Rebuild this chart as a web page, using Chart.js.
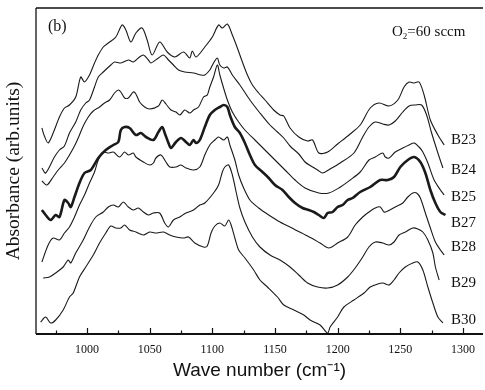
<!DOCTYPE html>
<html>
<head>
<meta charset="utf-8">
<script src="https://cdn.jsdelivr.net/npm/chart.js@4.4.1/dist/chart.umd.min.js"></script>
<style>
  html, body { margin: 0; padding: 0; background: #fff; }
  #wrap { width: 485px; height: 390px; }
</style>
</head>
<body>
<div id="wrap"><canvas id="chart-ftir" width="485" height="390"></canvas></div>
<script>
// ─── Data (wave number cm-1, absorbance arb. units) ───────────────────────────

const xTicks = [1000, 1050, 1100, 1150, 1200, 1250, 1300];
const curveNames = ['B23', 'B24', 'B25', 'B27', 'B28', 'B29', 'B30'];

const b23 = [[964,206],[966,198],[969,191],[973,201],[978,217],[982,226],[986,229],[991,237],[995,257],[998,252],[1002,259],[1006,271],[1009,279],[1013,287],[1017,291],[1023,297],[1028,309],[1031,304],[1035,292],[1039,301],[1044,306],[1048,294],[1052,279],[1058,292],[1064,282],[1070,277],[1077,282],[1082,276],[1084,283],[1087,277],[1094,287],[1100,297],[1105,309],[1108,306],[1112,310],[1116,299],[1120,286],[1124,272],[1128,259],[1132,249],[1137,241],[1142,234],[1149,224],[1154,219],[1157,218],[1162,206],[1169,197],[1176,193],[1180,194],[1185,181],[1192,182],[1200,190],[1210,200],[1218,209],[1226,226],[1233,231],[1241,228],[1248,234],[1253,247],[1257,252],[1261,251],[1265,252],[1269,239],[1274,214],[1280,199],[1285,189]];

const b24 = [[964,166],[967,161],[974,177],[978,184],[982,188],[986,201],[991,212],[995,224],[999,231],[1002,234],[1006,247],[1009,257],[1013,262],[1019,269],[1022,272],[1027,271],[1033,274],[1037,272],[1041,276],[1045,279],[1049,274],[1051,271],[1057,276],[1061,279],[1065,274],[1069,269],[1073,264],[1078,262],[1085,261],[1091,259],[1094,259],[1098,264],[1101,271],[1104,276],[1106,269],[1109,266],[1112,267],[1116,259],[1122,249],[1130,234],[1138,221],[1146,209],[1152,202],[1157,196],[1162,188],[1169,180],[1174,172],[1180,167],[1184,164],[1188,161],[1194,165],[1202,171],[1213,181],[1220,197],[1225,207],[1230,212],[1236,210],[1241,209],[1246,213],[1252,222],[1257,228],[1262,229],[1267,229],[1271,219],[1275,201],[1280,181],[1284,166]];

const b25 = [[964,153],[968,149],[973,157],[977,164],[982,171],[986,179],[990,188],[993,196],[997,208],[1001,217],[1005,223],[1010,227],[1014,231],[1018,234],[1022,241],[1025,244],[1027,242],[1030,236],[1033,236],[1037,242],[1039,240],[1042,232],[1046,227],[1050,225],[1057,228],[1060,234],[1063,230],[1067,224],[1071,222],[1074,219],[1078,224],[1082,221],[1085,224],[1089,227],[1093,237],[1096,239],[1098,247],[1101,257],[1104,269],[1106,259],[1109,246],[1112,234],[1116,222],[1121,212],[1126,204],[1134,194],[1142,184],[1150,174],[1158,164],[1166,154],[1174,146],[1185,141],[1193,141],[1201,146],[1210,154],[1218,162],[1225,174],[1230,177],[1236,181],[1238,177],[1241,176],[1246,182],[1252,186],[1257,189],[1261,191],[1265,187],[1268,182],[1272,171],[1277,154],[1282,144],[1285,139]];

const b27 = [[964,124],[967,119],[971,114],[975,119],[978,117],[982,134],[985,131],[987,127],[990,137],[994,151],[998,161],[1003,164],[1009,176],[1015,184],[1021,189],[1025,192],[1027,204],[1030,207],[1034,206],[1039,199],[1043,201],[1047,197],[1053,194],[1057,202],[1060,207],[1062,201],[1065,191],[1067,186],[1071,192],[1075,196],[1079,192],[1082,189],[1085,194],[1087,191],[1090,194],[1094,207],[1098,219],[1102,224],[1106,227],[1109,229],[1112,227],[1114,219],[1118,207],[1122,201],[1126,191],[1130,179],[1134,169],[1140,162],[1145,156],[1150,149],[1156,144],[1161,137],[1166,131],[1172,126],[1177,124],[1181,122],[1185,119],[1189,116],[1192,121],[1196,122],[1200,127],[1204,129],[1208,134],[1212,136],[1218,142],[1226,147],[1234,154],[1240,154],[1245,157],[1250,167],[1256,174],[1261,177],[1266,172],[1270,161],[1274,144],[1278,131],[1282,122],[1286,119]];

const b28 = [[964,72],[969,89],[973,96],[978,94],[982,101],[986,107],[990,117],[994,129],[998,139],[1002,151],[1006,162],[1009,174],[1013,182],[1017,181],[1021,182],[1026,177],[1030,182],[1033,179],[1037,181],[1039,177],[1045,172],[1050,169],[1053,171],[1055,176],[1059,179],[1063,172],[1066,167],[1071,167],[1075,169],[1079,166],[1085,164],[1090,167],[1094,179],[1098,189],[1102,194],[1105,197],[1109,194],[1112,197],[1114,189],[1118,174],[1121,159],[1125,146],[1130,134],[1137,126],[1145,119],[1154,112],[1165,105],[1176,98],[1186,91],[1193,86],[1200,91],[1208,97],[1214,109],[1220,117],[1225,122],[1230,126],[1234,127],[1237,122],[1240,123],[1246,127],[1252,131],[1256,137],[1260,141],[1263,141],[1266,136],[1270,121],[1274,106],[1278,92],[1282,84],[1285,79]];

const b29 = [[965,56],[970,57],[975,61],[981,67],[985,74],[987,71],[991,81],[997,94],[1002,107],[1007,117],[1013,122],[1017,127],[1021,129],[1025,127],[1029,132],[1033,127],[1037,124],[1041,126],[1045,122],[1049,119],[1053,121],[1058,121],[1062,111],[1065,107],[1069,114],[1074,117],[1079,121],[1085,124],[1090,129],[1094,131],[1101,141],[1105,149],[1108,162],[1110,167],[1113,169],[1116,159],[1119,142],[1122,126],[1126,112],[1132,97],[1138,87],[1146,79],[1154,74],[1162,67],[1169,59],[1176,51],[1184,47],[1192,46],[1200,49],[1208,57],[1214,66],[1220,77],[1225,87],[1230,92],[1236,91],[1241,89],[1245,92],[1249,99],[1254,102],[1260,106],[1264,105],[1268,102],[1272,94],[1276,81],[1278,67],[1281,54]];

const b30 = [[963,12],[967,17],[971,11],[975,14],[981,24],[986,37],[989,41],[994,57],[999,67],[1005,79],[1010,91],[1015,101],[1019,108],[1023,106],[1027,106],[1030,109],[1034,104],[1039,102],[1045,99],[1050,102],[1055,101],[1061,102],[1066,99],[1071,97],[1077,96],[1081,97],[1086,91],[1093,87],[1096,88],[1099,101],[1102,108],[1106,111],[1110,108],[1113,114],[1115,109],[1118,96],[1121,84],[1126,76],[1133,64],[1138,54],[1144,47],[1152,37],[1157,29],[1165,24],[1173,19],[1178,14],[1186,9],[1192,1],[1194,7],[1200,17],[1205,27],[1213,34],[1221,41],[1226,47],[1232,50],[1236,51],[1241,49],[1245,54],[1249,61],[1254,67],[1260,71],[1264,72],[1268,64],[1272,47],[1276,31],[1280,17],[1284,11]];

const curves = [b23, b24, b25, b27, b28, b29, b30];

// ─── Frame, inward ticks and in-plot text ─────────────────────────────────────

const labelPos = [140, 170, 197, 223, 247, 283, 320];

const framePlugin = {
  id: 'frame',
  afterDraw(chart) {
    const { ctx, chartArea: a, scales: { x } } = chart;
    ctx.save();
    ctx.strokeStyle = '#111';
    ctx.lineCap = 'butt';

    ctx.lineWidth = 1.6;
    ctx.beginPath(); ctx.moveTo(a.left, a.top); ctx.lineTo(a.right, a.top); ctx.stroke();
    ctx.lineWidth = 1.3;
    ctx.beginPath(); ctx.moveTo(a.left, a.top); ctx.lineTo(a.left, a.bottom); ctx.stroke();
    ctx.lineWidth = 2;
    ctx.beginPath(); ctx.moveTo(a.left, a.bottom); ctx.lineTo(a.right, a.bottom); ctx.stroke();

    ctx.lineWidth = 1.2;
    for (let v = 975; v <= 1300; v += 25) {
      const px = Math.round(x.getPixelForValue(v)) + 0.5;
      const len = v % 50 === 0 ? 6 : 3.5;
      ctx.beginPath(); ctx.moveTo(px, a.bottom); ctx.lineTo(px, a.bottom - len); ctx.stroke();
    }

    ctx.fillStyle = '#111';
    ctx.textBaseline = 'middle';
    ctx.textAlign = 'left';
    ctx.font = '15px "Liberation Serif"';
    curveNames.forEach((name, i) => ctx.fillText(name, 451, labelPos[i]));

    ctx.font = '16px "Liberation Serif"';
    ctx.fillText('(b)', 48, 27);

    // O2=60 sccm with subscript
    ctx.font = '15px "Liberation Serif"';
    let tx = 392;
    ctx.fillText('O', tx, 32);
    tx += ctx.measureText('O').width;
    ctx.font = '9px "Liberation Serif"';
    ctx.fillText('2', tx, 37);
    tx += ctx.measureText('2').width;
    ctx.font = '15px "Liberation Serif"';
    ctx.fillText('=60 sccm', tx, 32);
    ctx.restore();
  },
};

// ─── Chart ────────────────────────────────────────────────────────────────────

const canvas = document.getElementById('chart-ftir');

new Chart(canvas, {
  type: 'line',
  data: {
    datasets: curves.map((pts, i) => ({
      label: curveNames[i],
      data: pts.map(([x, y]) => ({ x, y })),
      borderColor: '#1a1a1a',
      borderWidth: curveNames[i] === 'B27' ? 2.6 : 1.1,
      pointRadius: 0,
      tension: 0.3,
      fill: false,
    })),
  },
  options: {
    responsive: false,
    animation: false,
    devicePixelRatio: 1,
    layout: { padding: { left: 0, right: 2, top: 8, bottom: 0 } },
    plugins: { legend: { display: false }, tooltip: { enabled: false } },
    scales: {
      x: {
        type: 'linear',
        min: 959.3,
        max: 1316,
        afterBuildTicks: (s) => { s.ticks = xTicks.map((v) => ({ value: v })); },
        afterFit: (s) => { s.height = 56; },
        grid: { display: false, drawTicks: false },
        border: { display: false },
        ticks: {
          padding: 9,
          color: '#111',
          maxRotation: 0,
          callback: (v) => String(v),
          font: { family: 'Liberation Serif', size: 12 },
        },
        title: {
          display: true,
          text: 'Wave number (cm\u207B\u00B9)',
          color: '#111',
          font: { family: 'Liberation Sans', size: 19 },
          padding: { top: 0, bottom: 8 },
        },
      },
      y: {
        min: 0,
        max: 326,
        afterFit: (s) => { s.width = 36; },
        grid: { display: false, drawTicks: false },
        border: { display: false },
        ticks: { display: false },
        title: {
          display: true,
          text: 'Absorbance (arb.units)',
          color: '#111',
          font: { family: 'Liberation Serif', size: 19.5 },
          padding: { top: 2, bottom: 0 },
        },
      },
    },
  },
  plugins: [framePlugin],
});
</script>
</body>
</html>
